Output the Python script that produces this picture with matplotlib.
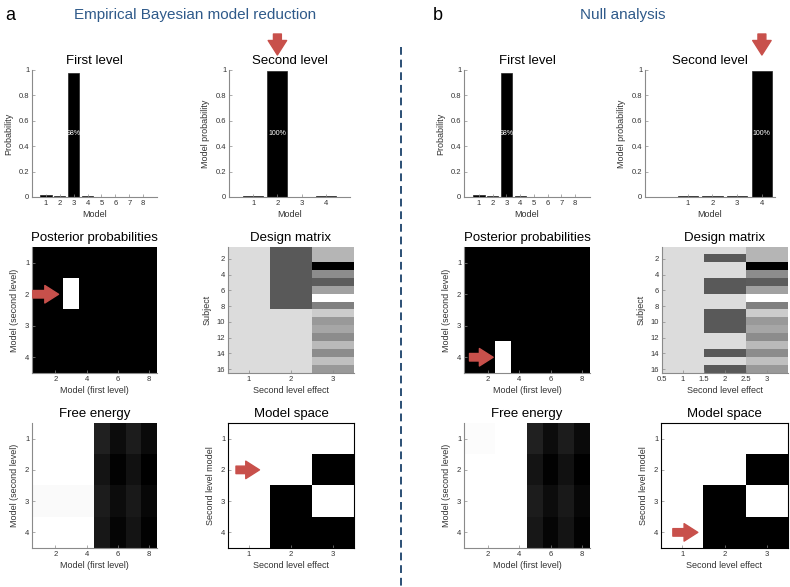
import matplotlib
matplotlib.use("Agg")
import matplotlib.pyplot as plt
import matplotlib.transforms as mtransforms
from matplotlib.lines import Line2D
import numpy as np

plt.rcParams['font.family'] = ['Liberation Sans', 'DejaVu Sans']

# ---------------- data ----------------
first_models = [1, 2, 3, 4, 5, 6, 7, 8]
first_prob_a = [0.018, 0.008, 0.98, 0.010, 0.001, 0.001, 0.001, 0.001]
first_prob_b = [0.018, 0.008, 0.98, 0.010, 0.001, 0.001, 0.001, 0.001]
second_models = [1, 2, 3, 4]
second_prob_a = [0.006, 0.995, 0.001, 0.006]
second_prob_b = [0.005, 0.005, 0.005, 0.995]
first_label_a = "98%"
first_label_b = "98%"
second_label_a = "100%"
second_label_b = "100%"

posterior_a = [[0, 0, 0, 0, 0, 0, 0, 0],
               [0, 0, 1, 0, 0, 0, 0, 0],
               [0, 0, 0, 0, 0, 0, 0, 0],
               [0, 0, 0, 0, 0, 0, 0, 0]]
posterior_b = [[0, 0, 0, 0, 0, 0, 0, 0],
               [0, 0, 0, 0, 0, 0, 0, 0],
               [0, 0, 0, 0, 0, 0, 0, 0],
               [0, 0, 1, 0, 0, 0, 0, 0]]

design_col1 = [0.86] * 16
design_col2_a = [0.35, 0.35, 0.35, 0.35, 0.35, 0.35, 0.35, 0.35,
                 0.86, 0.86, 0.86, 0.86, 0.86, 0.86, 0.86, 0.86]
design_col2_b = [0.86, 0.35, 0.86, 0.86, 0.35, 0.35, 0.86, 0.86,
                 0.35, 0.35, 0.35, 0.86, 0.86, 0.35, 0.86, 0.35]
design_col3 = [0.71, 0.71, 0.0, 0.55, 0.36, 0.63, 1.0, 0.50,
               0.80, 0.60, 0.65, 0.55, 0.73, 0.55, 0.75, 0.60]

free_energy_a = [[1.0, 1.0, 1.0, 1.0, 0.13, 0.05, 0.11, 0.04],
                 [1.0, 1.0, 1.0, 1.0, 0.08, 0.01, 0.07, 0.00],
                 [0.98, 0.98, 0.98, 0.98, 0.11, 0.05, 0.10, 0.03],
                 [1.0, 1.0, 1.0, 1.0, 0.09, 0.02, 0.08, 0.01]]
free_energy_b = [[0.985, 0.985, 1.0, 1.0, 0.13, 0.05, 0.11, 0.04],
                 [1.0, 1.0, 1.0, 1.0, 0.08, 0.01, 0.07, 0.00],
                 [1.0, 1.0, 1.0, 1.0, 0.11, 0.05, 0.10, 0.03],
                 [1.0, 1.0, 1.0, 1.0, 0.09, 0.02, 0.08, 0.01]]

model_space = [[1, 1, 1],
               [1, 1, 0],
               [1, 0, 1],
               [1, 0, 0]]

# ---------------- figure ----------------
W, H = 790, 587
fig = plt.figure(figsize=(W / 100, H / 100), dpi=100)
fig.patch.set_facecolor('white')

RED = '#c8504b'
BLUE = '#2f5a8a'
SPINE = '#8a8a8a'
TICKC = '#333333'
TFS = 5.5
LFS = 6.5
TITFS = 9.5

ARROWSTYLE = 'simple,head_length=0.55,head_width=0.7,tail_width=0.3'


def add_ax(x0, y0, x1, y1):
    return fig.add_axes([x0 / W, 1 - y1 / H, (x1 - x0) / W, (y1 - y0) / H])


def style(ax, box=False, spine_color=SPINE):
    for s in ['top', 'right']:
        ax.spines[s].set_visible(box)
    for s in ax.spines.values():
        s.set_color(spine_color)
        s.set_linewidth(0.8)
    ax.tick_params(direction='in', length=2, width=0.5, color=SPINE,
                   labelsize=TFS, labelcolor=TICKC, pad=2)


def bar_panel(ax, x, vals, xlim, label, label_x, ylab, title):
    ax.bar(x, vals, width=0.82, color='black', edgecolor='#222222', linewidth=0.5)
    ax.set_xlim(*xlim)
    ax.set_ylim(0, 1)
    ax.set_xticks(x)
    ax.set_yticks([0, 0.2, 0.4, 0.6, 0.8, 1])
    ax.set_yticklabels(['0', '0.2', '0.4', '0.6', '0.8', '1'])
    ax.text(label_x, 0.5, label, color='white', fontsize=5, ha='center', va='center')
    ax.set_xlabel('Model', fontsize=LFS, labelpad=2, color=TICKC)
    ax.set_ylabel(ylab, fontsize=LFS, labelpad=4, color=TICKC)
    ax.set_title(title, fontsize=TITFS, pad=4)
    style(ax)


def img_panel(ax, data, title, xlab, ylab, xticks, yticks, box=False, spine_color=SPINE):
    arr = np.array(data, dtype=float)
    nr, nc = arr.shape
    ax.imshow(arr, cmap='gray', vmin=0, vmax=1, interpolation='nearest',
              aspect='auto', extent=(0.5, nc + 0.5, nr + 0.5, 0.5))
    ax.set_xticks(xticks)
    ax.set_yticks(yticks)
    ax.set_title(title, fontsize=TITFS, pad=4)
    ax.set_xlabel(xlab, fontsize=LFS, labelpad=2, color=TICKC)
    ax.set_ylabel(ylab, fontsize=LFS, labelpad=4, color=TICKC)
    style(ax, box=box, spine_color=spine_color)


def arrow(ax, tail, head, scale=18):
    ax.annotate('', xy=head, xytext=tail, xycoords='data', textcoords='data',
                annotation_clip=False,
                arrowprops=dict(arrowstyle=ARROWSTYLE,
                                color=RED, mutation_scale=scale, shrinkA=0, shrinkB=0))


def top_arrow(ax, xval):
    tr = mtransforms.offset_copy(ax.transData, fig=fig, x=0, y=15, units='dots')
    ax.annotate('', xy=(xval, 1.0), xycoords=tr,
                xytext=(0, 21), textcoords='offset pixels', annotation_clip=False,
                arrowprops=dict(arrowstyle=ARROWSTYLE,
                                color=RED, mutation_scale=19, shrinkA=0, shrinkB=0))


design_a = np.column_stack([design_col1, design_col2_a, design_col3])
design_b = np.column_stack([design_col1, design_col2_b, design_col3])

# ---------- panel a ----------
ax = add_ax(32, 70, 157, 197)
bar_panel(ax, first_models, first_prob_a, (0, 9), first_label_a, 3, 'Probability', 'First level')

ax = add_ax(229, 70, 350, 197)
bar_panel(ax, second_models, second_prob_a, (0, 5), second_label_a, 2, 'Model probability', 'Second level')
top_arrow(ax, 2)

ax = add_ax(32, 247, 157, 373)
img_panel(ax, posterior_a, 'Posterior probabilities', 'Model (first level)', 'Model (second level)',
          [2, 4, 6, 8], [1, 2, 3, 4])
arrow(ax, (0.55, 2), (2.2, 2))

ax = add_ax(228, 247, 354, 373)
img_panel(ax, design_a, 'Design matrix', 'Second level effect', 'Subject',
          [1, 2, 3], list(range(2, 17, 2)))

ax = add_ax(32, 423, 157, 548)
img_panel(ax, free_energy_a, 'Free energy', 'Model (first level)', 'Model (second level)',
          [2, 4, 6, 8], [1, 2, 3, 4])

ax = add_ax(228, 423, 354, 548)
img_panel(ax, model_space, 'Model space', 'Second level effect', 'Second level model',
          [1, 2, 3], [1, 2, 3, 4], box=True, spine_color='black')
arrow(ax, (0.69, 2), (1.25, 2))

# ---------- panel b ----------
ax = add_ax(464, 70, 590, 197)
bar_panel(ax, first_models, first_prob_b, (-0.1, 9.1), first_label_b, 3, 'Probability', 'First level')

ax = add_ax(645, 70, 775, 197)
bar_panel(ax, second_models, second_prob_b, (-0.73, 4.53), second_label_b, 4, 'Model probability', 'Second level')
top_arrow(ax, 4)

ax = add_ax(464, 247, 590, 373)
img_panel(ax, posterior_b, 'Posterior probabilities', 'Model (first level)', 'Model (second level)',
          [2, 4, 6, 8], [1, 2, 3, 4])
arrow(ax, (0.85, 4), (2.35, 4))

ax = add_ax(662, 247, 788, 373)
img_panel(ax, design_b, 'Design matrix', 'Second level effect', 'Subject',
          [0.5, 1, 1.5, 2, 2.5, 3], list(range(2, 17, 2)))
ax.set_xticklabels(['0.5', '1', '1.5', '2', '2.5', '3'])

ax = add_ax(464, 423, 590, 548)
img_panel(ax, free_energy_b, 'Free energy', 'Model (first level)', 'Model (second level)',
          [2, 4, 6, 8], [1, 2, 3, 4])

ax = add_ax(661, 423, 788, 548)
img_panel(ax, model_space, 'Model space', 'Second level effect', 'Second level model',
          [1, 2, 3], [1, 2, 3, 4], box=True, spine_color='black')
arrow(ax, (0.78, 4), (1.37, 4))

# ---------- headings ----------
fig.text(5 / W, 1 - 16 / H, 'a', fontsize=13, ha='left', va='center')
fig.text(433 / W, 1 - 16 / H, 'b', fontsize=13, ha='left', va='center')
fig.text(195 / W, 1 - 15 / H, 'Empirical Bayesian model reduction', fontsize=11,
         color=BLUE, ha='center', va='center')
fig.text(623 / W, 1 - 15 / H, 'Null analysis', fontsize=11,
         color=BLUE, ha='center', va='center')

fig.add_artist(Line2D([401 / W, 401 / W], [1 - 47 / H, 0], transform=fig.transFigure,
                      color='#2b4f75', lw=1.4, linestyle=(0, (4, 2.5))))

fig.savefig('out.png', dpi=100, facecolor='white')
